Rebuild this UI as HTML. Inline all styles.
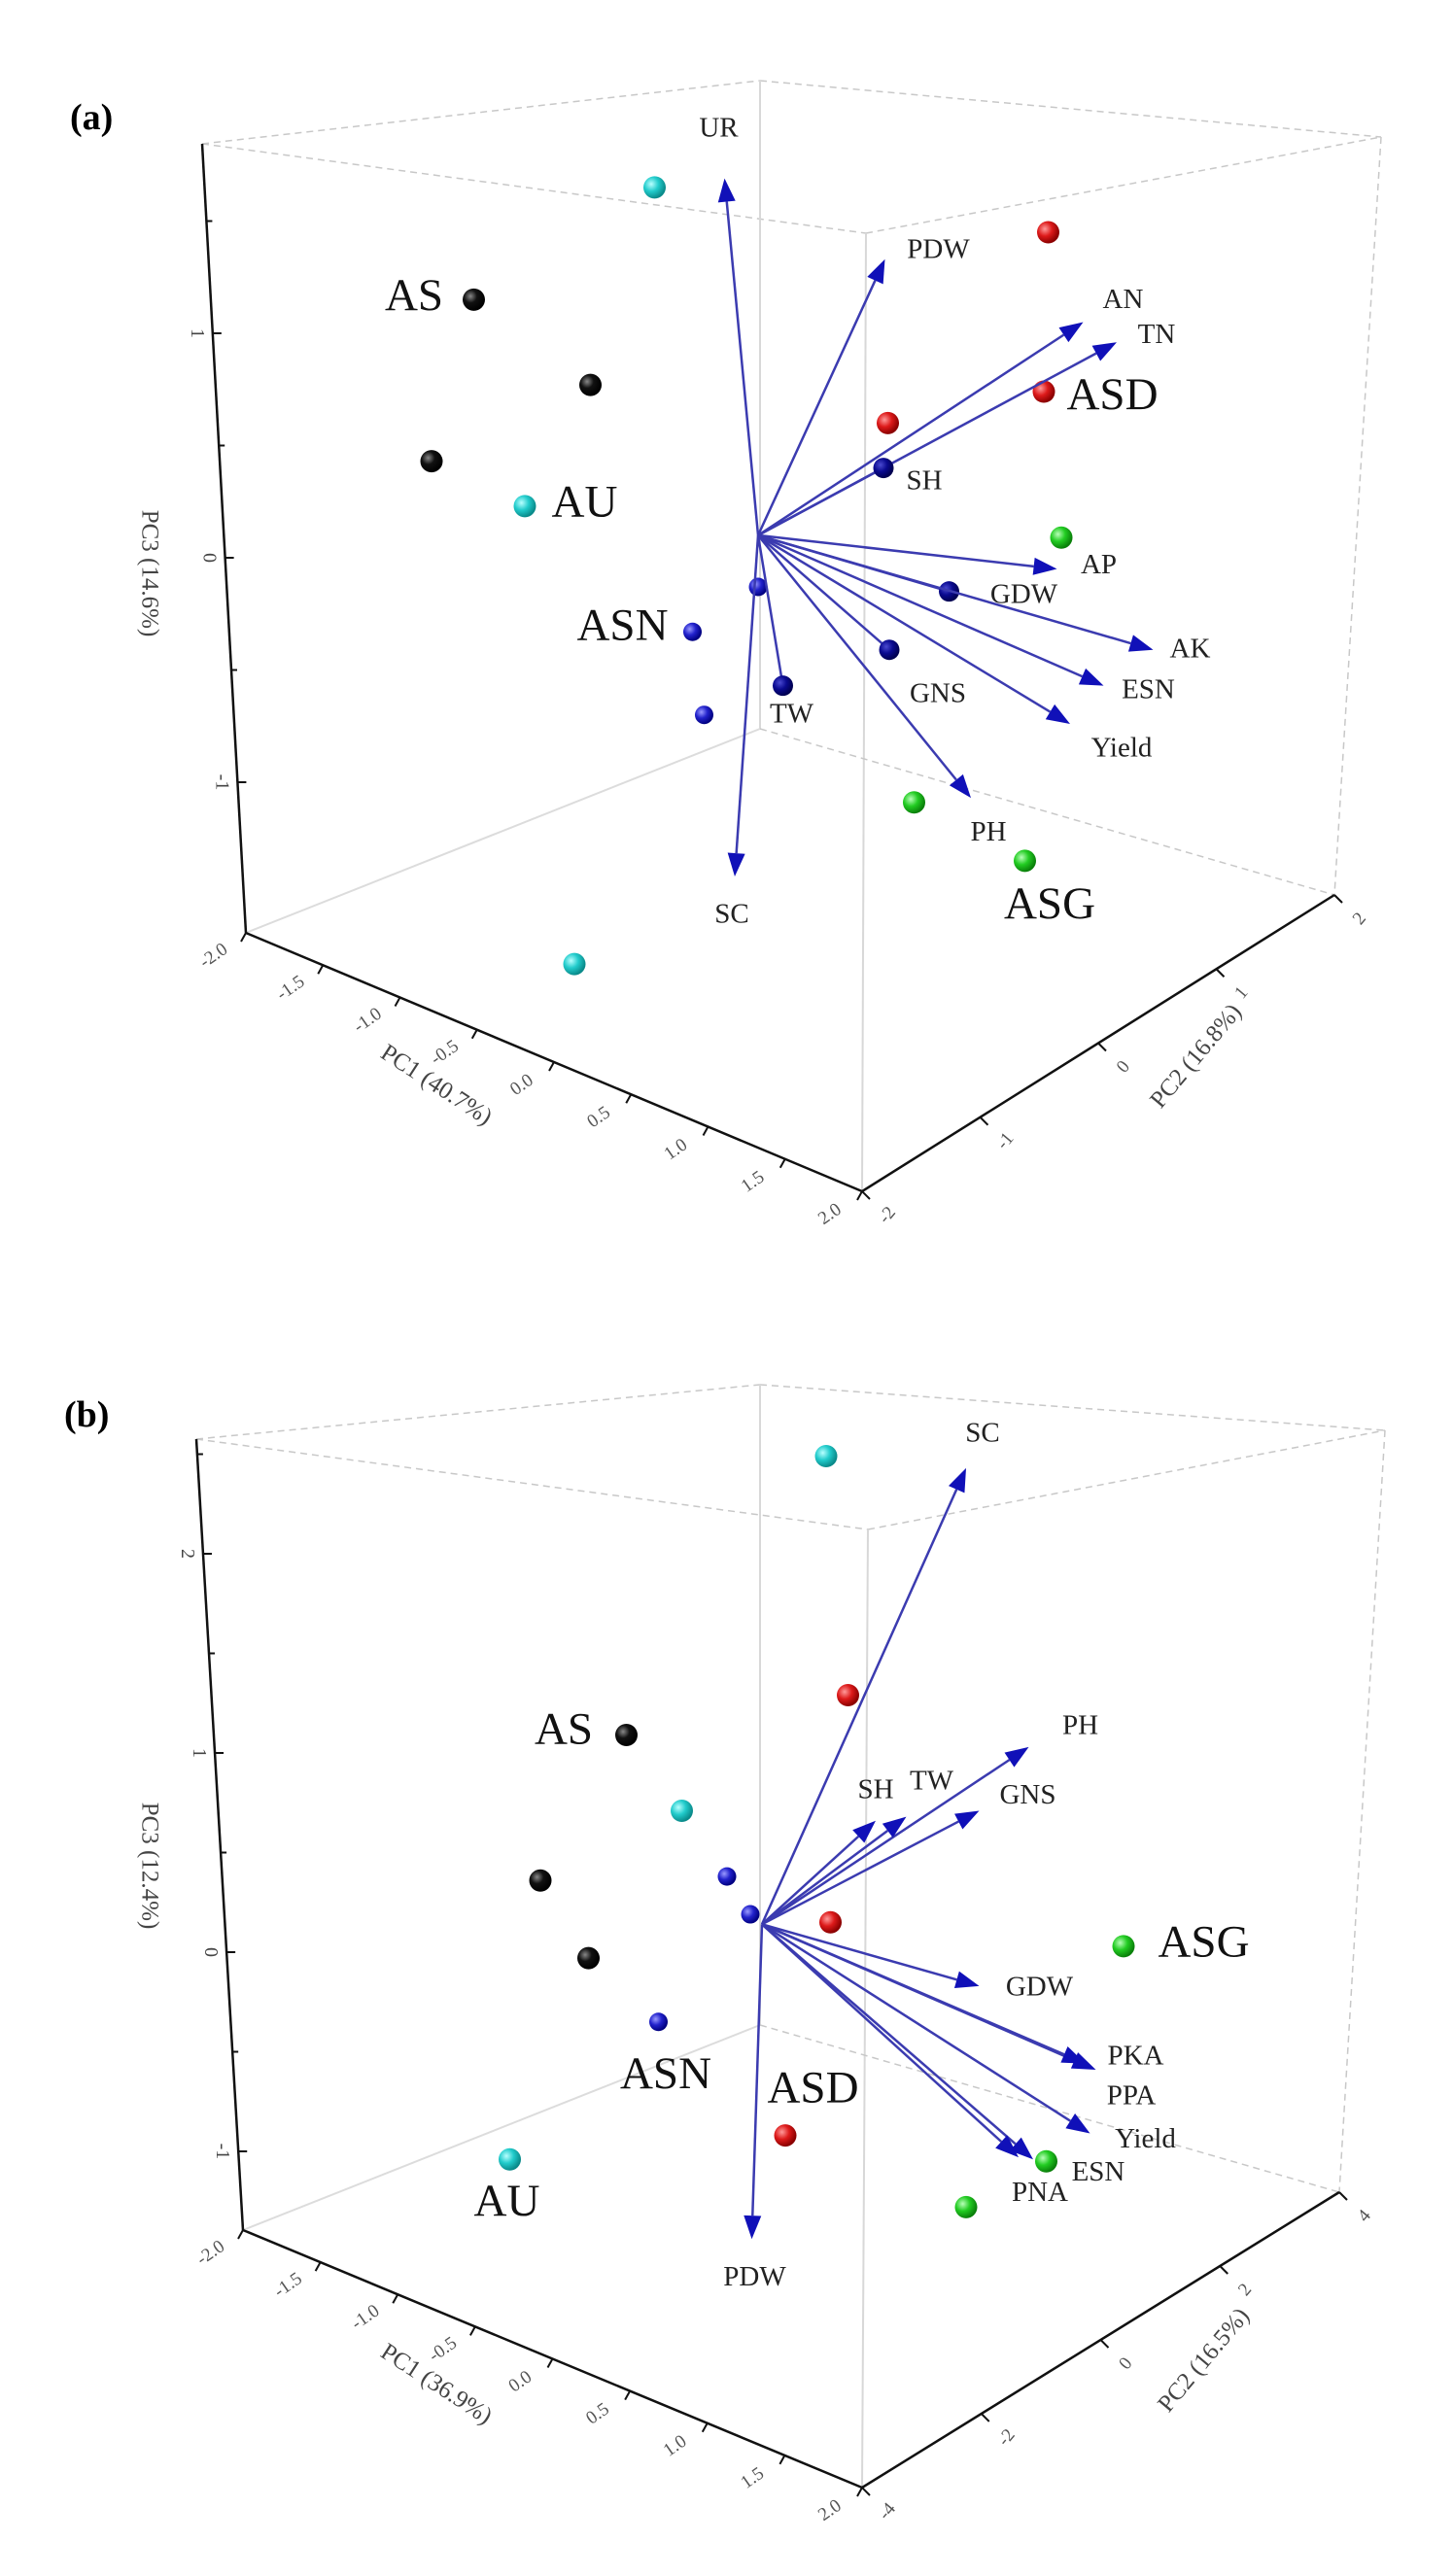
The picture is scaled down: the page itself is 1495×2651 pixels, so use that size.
<!DOCTYPE html>
<html><head><meta charset="utf-8"><style>
html,body{margin:0;padding:0;background:#fff;}
svg{display:block;}
text{font-family:"Liberation Serif",serif;}
</style></head><body>
<svg id="fig" width="1495" height="2651" viewBox="0 0 1495 2651" xmlns="http://www.w3.org/2000/svg">
<defs>
<radialGradient id="g-cyan" cx="35%" cy="35%" r="65%"><stop offset="0" stop-color="#b8ffff"/><stop offset="0.5" stop-color="#22cccc"/><stop offset="1" stop-color="#0a8a8a"/></radialGradient>
<radialGradient id="g-black" cx="35%" cy="35%" r="65%"><stop offset="0" stop-color="#888"/><stop offset="0.45" stop-color="#111"/><stop offset="1" stop-color="#000"/></radialGradient>
<radialGradient id="g-red" cx="35%" cy="35%" r="65%"><stop offset="0" stop-color="#ff9a9a"/><stop offset="0.5" stop-color="#dd1a1a"/><stop offset="1" stop-color="#8a0000"/></radialGradient>
<radialGradient id="g-green" cx="35%" cy="35%" r="65%"><stop offset="0" stop-color="#b8ffb8"/><stop offset="0.5" stop-color="#22cc22"/><stop offset="1" stop-color="#0a800a"/></radialGradient>
<radialGradient id="g-blue" cx="35%" cy="35%" r="65%"><stop offset="0" stop-color="#9a9aff"/><stop offset="0.5" stop-color="#2222cc"/><stop offset="1" stop-color="#000080"/></radialGradient>
<radialGradient id="g-navy" cx="35%" cy="35%" r="65%"><stop offset="0" stop-color="#4a4ad0"/><stop offset="0.5" stop-color="#0a0a90"/><stop offset="1" stop-color="#000050"/></radialGradient>
</defs>
<g id="panel-a"></g>
<g id="panel-b"></g>
</svg>
<script>
// ---------- Panel (a) data (h: horizontal projected unit, v: PC3 units) ----------
const aGroups = ['AU','AU','AU','AS','AS','AS','ASD','ASD','ASD','ASG','ASG','ASG','ASN','ASN','ASN'];
const aPointH = [-0.71,-1.60,-1.26,-1.95,-1.15,-2.24,1.99,1.96,0.89,2.08,1.07,1.83,-0.45,-0.37,0.00];
const aPointV = [1.65,0.23,-1.81,1.15,0.77,0.43,1.45,0.74,0.60,0.09,-1.09,-1.35,-0.33,-0.70,-0.13];
const aVars = ['UR','PDW','AN','TN','SH','AP','GDW','AK','ESN','Yield','GNS','PH','TW','SC'];
const aVarH = [-0.23,0.87,2.23,2.46,0.86,2.05,1.31,2.71,2.37,2.14,0.90,1.46,0.17,-0.16];
const aVarV = [1.69,1.33,1.05,0.96,0.40,-0.05,-0.15,-0.41,-0.57,-0.74,-0.41,-1.07,-0.57,-1.42];
const aEndOn = [0,0,0,0,1,0,1,0,0,0,1,0,1,0];
const aGroupLabels = ['AS','ASD','AU','ASN','ASG'];
const aGroupLabelH = [-2.36,2.43,-1.19,-0.93,2.00];
const aGroupLabelV = [1.15,0.71,0.23,-0.32,-1.56];
const aOriginH = 0, aOriginV = 0.10;
const aPC3Ticks = [-1,0,1];
const aPC1Ticks = ['-2.0','-1.5','-1.0','-0.5','0.0','0.5','1.0','1.5','2.0'];
const aPC2Ticks = ['-2','-1','0','1','2'];

// ---------- Panel (b) data ----------
const bGroups = ['AU','AU','AU','AS','AS','AS','ASD','ASD','ASD','ASG','ASG','ASG','ASN','ASN','ASN'];
const bPointH = [0.44,-0.55,-1.73,-0.93,-1.52,-1.19,0.59,0.47,0.16,2.48,1.95,1.40,-0.24,-0.08,-0.71];
const bPointV = [2.49,0.71,-1.04,1.09,0.36,-0.03,1.29,0.15,-0.92,0.03,-1.05,-1.28,0.38,0.19,-0.35];
const bVars = ['SC','PH','SH','TW','GNS','GDW','PKA','PPA','Yield','ESN','PNA','PDW'];
const bVarH = [1.40,1.83,0.78,0.99,1.49,1.49,2.29,2.22,2.25,1.86,1.76,-0.07];
const bVarV = [2.43,1.03,0.66,0.68,0.71,-0.17,-0.59,-0.56,-0.91,-1.04,-1.03,-1.44];
const bEndOn = [0,0,0,0,0,0,0,0,0,0,0,0];
const bGroupLabels = ['AS','ASG','ASN','ASD','AU'];
const bGroupLabelH = [-1.36,3.03,-0.66,0.35,-1.75];
const bGroupLabelV = [1.10,0.03,-0.63,-0.70,-1.27];
const bOriginH = 0, bOriginV = 0.14;
const bPC3Ticks = [-1,0,1,2];
const bPC1Ticks = ['-2.0','-1.5','-1.0','-0.5','0.0','0.5','1.0','1.5','2.0'];
const bPC2Ticks = ['-4','-2','0','2','4'];

const NS = 'http://www.w3.org/2000/svg';
function mk(parent, tag, attrs) {
  const e = document.createElementNS(NS, tag);
  for (const k in attrs) e.setAttribute(k, attrs[k]);
  parent.appendChild(e);
  return e;
}
const fill = {AU:'url(#g-cyan)',AS:'url(#g-black)',ASD:'url(#g-red)',ASG:'url(#g-green)',ASN:'url(#g-blue)'};

function drawPanel(root, cfg) {
  const sx = h => cfg.x0 + cfg.hs * h;
  const sy = v => cfg.y0 - cfg.vs * v;
  const F = cfg.frame;
  // frame lines
  const line = (p, q, stroke, w, dash, name) => {
    const l = mk(root, 'line', {x1:p[0], y1:p[1], x2:q[0], y2:q[1], stroke:stroke, 'stroke-width':w});
    if (dash) l.setAttribute('stroke-dasharray', dash);
    
    
  };
  line(F.tl, F.tb, '#c8c8c8', 1.5, '7,5', 'top-back-edge');
  line(F.tb, F.tr, '#c8c8c8', 1.5, '7,5', 'top-right-edge');
  line(F.tl, F.tf, '#c8c8c8', 1.5, '7,5', 'top-front-edge');
  line(F.tf, F.tr, '#c8c8c8', 1.5, '7,5', 'top-side-edge');
  line(F.tb, F.bb, '#d8d8d8', 2, null, 'back-vertical-edge');
  line(F.tf, F.fc, '#d8d8d8', 2, null, 'front-vertical-edge');
  line(F.tr, F.br, '#c8c8c8', 1.5, '7,5', 'right-vertical-edge');
  line(F.bl, F.bb, '#dcdcdc', 2, null, 'floor-back-left-edge');
  line(F.bb, F.br, '#c8c8c8', 1.5, '7,5', 'floor-back-right-edge');
  line(F.tl, F.bl, '#111', 2.5, null, 'pc3-axis-line');
  line(F.bl, F.fc, '#111', 2.5, null, 'pc1-axis-line');
  line(F.fc, F.br, '#111', 2.5, null, 'pc2-axis-line');

  // PC3 ticks
  const axX = y => F.tl[0] + (y - F.tl[1]) * (F.bl[0] - F.tl[0]) / (F.bl[1] - F.tl[1]);
  cfg.pc3Ticks.forEach(t => {
    const y = sy(t), x = axX(y);
    const tk = mk(root, 'line', {x1:x, y1:y, x2:x+9, y2:y, stroke:'#111', 'stroke-width':2});
    
    
    const tx = mk(root, 'text', {x:x-22, y:y, 'font-size':20, fill:'#444', 'text-anchor':'middle', transform:`rotate(90 ${x-22} ${y})`});
    tx.textContent = String(t);
    
    
    const ym = sy(t + 0.5), xm = axX(ym);
    if (ym > F.tl[1] && ym < F.bl[1]) {
      const mt = mk(root, 'line', {x1:xm, y1:ym, x2:xm+6, y2:ym, stroke:'#111', 'stroke-width':2});
      
      
    }
  });
  // PC1 ticks
  const n1 = cfg.pc1Ticks.length - 1;
  cfg.pc1Ticks.forEach((lab, i) => {
    const t = i / n1;
    const x = F.bl[0] + t * (F.fc[0] - F.bl[0]), y = F.bl[1] + t * (F.fc[1] - F.bl[1]);
    const tk = mk(root, 'line', {x1:x, y1:y, x2:x-5, y2:y+9, stroke:'#111', 'stroke-width':2});
    
    
    const lx = x - 30, ly = y + 28;
    const tx = mk(root, 'text', {x:lx, y:ly, 'font-size':19, fill:'#555', 'text-anchor':'middle', transform:`rotate(-35 ${lx} ${ly})`});
    tx.textContent = lab;
    
    
  });
  // PC2 ticks
  const n2 = cfg.pc2Ticks.length - 1;
  cfg.pc2Ticks.forEach((lab, i) => {
    const t = i / n2;
    const x = F.fc[0] + t * (F.br[0] - F.fc[0]), y = F.fc[1] + t * (F.br[1] - F.fc[1]);
    const tk = mk(root, 'line', {x1:x, y1:y, x2:x+8, y2:y+8, stroke:'#111', 'stroke-width':2});
    
    
    const lx = x + 30, ly = y + 28;
    const tx = mk(root, 'text', {x:lx, y:ly, 'font-size':19, fill:'#555', 'text-anchor':'middle', transform:`rotate(-50 ${lx} ${ly})`});
    tx.textContent = lab;
    
    
  });
  // axis titles
  const title = (txt, x, y, rot, name) => {
    const t = mk(root, 'text', {x:x, y:y, 'font-size':25, fill:'#444', 'text-anchor':'middle', 'dominant-baseline':'middle', transform:`rotate(${rot} ${x} ${y})`});
    t.textContent = txt;
    
    
  };
  title(cfg.pc3Title, cfg.pc3TitlePos[0], cfg.pc3TitlePos[1], 90, 'pc3-axis-title');
  title(cfg.pc1Title, cfg.pc1TitlePos[0], cfg.pc1TitlePos[1], 33, 'pc1-axis-title');
  title(cfg.pc2Title, cfg.pc2TitlePos[0], cfg.pc2TitlePos[1], -50, 'pc2-axis-title');
  // panel label
  const pl = mk(root, 'text', {x:cfg.labelPos[0], y:cfg.labelPos[1], 'font-size':38, 'font-weight':'bold', fill:'#000'});
  pl.textContent = cfg.label;
  
  

  // points
  cfg.groups.forEach((g, i) => {
    const c = mk(root, 'circle', {cx:sx(cfg.ph[i]), cy:sy(cfg.pv[i]), r:(g === 'ASN' ? 9.5 : 11.5), fill:fill[g]});
    
    
  });
  // loading vectors
  const ox = sx(cfg.oh), oy = sy(cfg.ov);
  cfg.vars.forEach((name, i) => {
    const tx = sx(cfg.vh[i]), ty = sy(cfg.vv[i]);
    const dx = tx - ox, dy = ty - oy, L = Math.hypot(dx, dy), ux = dx / L, uy = dy / L;
    const g = mk(root, 'g', {});
    
    
    if (cfg.endOn[i]) {
      mk(g, 'line', {x1:ox, y1:oy, x2:tx, y2:ty, stroke:'#3b3bb0', 'stroke-width':2.5});
      mk(g, 'circle', {cx:tx, cy:ty, r:10.5, fill:'url(#g-navy)'});
    } else {
      const hl = 24, hw = 9;
      const bx = tx - ux * hl, by = ty - uy * hl;
      mk(g, 'line', {x1:ox, y1:oy, x2:bx, y2:by, stroke:'#3b3bb0', 'stroke-width':2.5});
      mk(g, 'polygon', {points:`${tx},${ty} ${bx - uy*hw},${by + ux*hw} ${bx + uy*hw},${by - ux*hw}`, fill:'#1010b8'});
    }
    const o = cfg.nudge[name];
    const t = mk(root, 'text', {x:tx + o[0], y:ty + o[1], 'font-size':29, fill:'#222', 'text-anchor':'middle', 'dominant-baseline':'middle'});
    t.textContent = name;
    
    
  });
  // group labels
  cfg.gl.forEach((name, i) => {
    const t = mk(root, 'text', {x:sx(cfg.glh[i]), y:sy(cfg.glv[i]), 'font-size':47, fill:'#111', 'text-anchor':'middle', 'dominant-baseline':'middle'});
    t.textContent = name;
    
    
  });
}

drawPanel(document.getElementById('panel-a'), {
  x0:780, hs:150, y0:574, vs:231,
  frame:{tl:[208,148], tb:[782,83], tr:[1421,141], tf:[891,240], bl:[253,960], bb:[782,750], fc:[887,1226], br:[1373,921]},
  pc3Ticks:aPC3Ticks, pc1Ticks:aPC1Ticks, pc2Ticks:aPC2Ticks,
  pc3Title:'PC3 (14.6%)', pc3TitlePos:[152,590],
  pc1Title:'PC1 (40.7%)', pc1TitlePos:[448,1118],
  pc2Title:'PC2 (16.8%)', pc2TitlePos:[1232,1088],
  label:'(a)', labelPos:[72,133],
  groups:aGroups, ph:aPointH, pv:aPointV,
  vars:aVars, vh:aVarH, vv:aVarV, endOn:aEndOn, oh:aOriginH, ov:aOriginV,
  gl:aGroupLabels, glh:aGroupLabelH, glv:aGroupLabelV,
  nudge:{UR:[-6,-50],PDW:[55,-8],AN:[41,-21],TN:[41,-6],SH:[42,15],AP:[43,-2],GDW:[77,5],AK:[38,1],ESN:[46,6],Yield:[53,27],GNS:[50,47],PH:[18,37],TW:[9,31],SC:[-3,41]}
});
drawPanel(document.getElementById('panel-b'), {
  x0:784, hs:150, y0:2009, vs:205,
  frame:{tl:[202,1481], tb:[782,1425], tr:[1425,1472], tf:[893,1574], bl:[250,2295], bb:[782,2084], fc:[887,2560], br:[1378,2256]},
  pc3Ticks:bPC3Ticks, pc1Ticks:bPC1Ticks, pc2Ticks:bPC2Ticks,
  pc3Title:'PC3 (12.4%)', pc3TitlePos:[152,1920],
  pc1Title:'PC1 (36.9%)', pc1TitlePos:[448,2455],
  pc2Title:'PC2 (16.5%)', pc2TitlePos:[1240,2430],
  label:'(b)', labelPos:[66,1468],
  groups:bGroups, ph:bPointH, pv:bPointV,
  vars:bVars, vh:bVarH, vv:bVarV, endOn:bEndOn, oh:bOriginH, ov:bOriginV,
  gl:bGroupLabels, glh:bGroupLabelH, glv:bGroupLabelV,
  nudge:{SC:[17,-34],PH:[53,-20],SH:[0,-30],TW:[26,-35],GNS:[50,-14],GDW:[62,3],PKA:[41,-12],PPA:[47,35],Yield:[57,8],ESN:[67,15],PNA:[22,38],PDW:[3,41]}
});
</script>
</body></html>
